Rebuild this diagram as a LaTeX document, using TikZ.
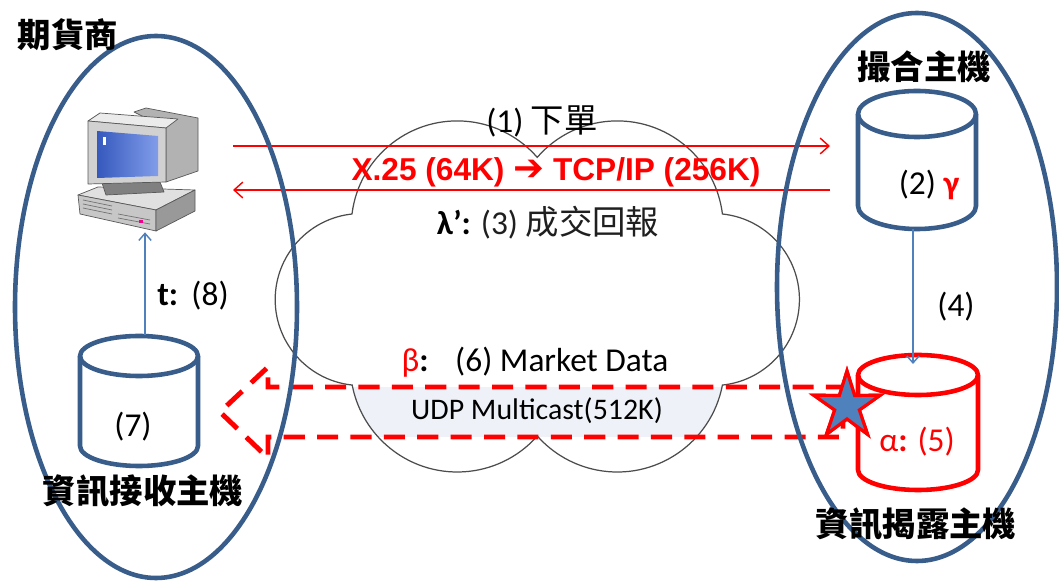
\documentclass[tikz,border=0pt]{standalone}
\usepackage{fontspec}
\setmainfont{Carlito}
\newfontfamily\cjk{Noto Sans CJK TC}
\newfontfamily\arialfont{Liberation Sans}
\newfontfamily\dingfont{DejaVu Sans}
\usetikzlibrary{arrows.meta}
\usetikzlibrary{shapes.geometric}

\definecolor{zoneblue}{RGB}{56,93,138}
\definecolor{linkblue}{RGB}{79,129,189}
\definecolor{bandfill}{RGB}{238,242,248}
\definecolor{screenblue}{RGB}{62,104,222}

\tikzset{
  zone/.style={draw=zoneblue,line width=2.6pt},
  dbline/.style={line width=2.6pt,line join=round},
  cloudline/.style={draw=black!70,line width=0.7pt},
  order/.style={red,line width=0.8pt,-{Straight Barb[length=5pt,width=9pt]}},
  feed/.style={linkblue,line width=0.8pt,-{Straight Barb[length=4pt,width=7pt]}},
  mktline/.style={red,line width=2.8pt,dash pattern=on 12pt off 7pt},
  hostlabel/.style={font=\cjk\bfseries\fontsize{19}{22}\selectfont,inner sep=0pt},
  msg/.style={font=\fontsize{19}{22}\selectfont,inner sep=0pt},
  pcface/.style={draw=black!65,line width=0.4pt,line join=round},
  hoststar/.style={star,star points=5,star point ratio=2.7,minimum size=14mm,inner sep=0pt,fill=linkblue,draw=red,line width=1.8pt}
}

% cloud between the two sites, one arc per puff
\newcommand\cloudoutline{(352,214) arc[start angle=-173,end angle=-41,radius=106]
  arc[start angle=-139,end angle=-7,radius=106]
  arc[start angle=-84,end angle=84,radius=86]
  arc[start angle=10.8,end angle=138.4,radius=107]
  arc[start angle=41.6,end angle=169.2,radius=107]
  arc[start angle=96,end angle=264,radius=86] -- cycle}

\begin{document}
\begin{tikzpicture}[x=0.2mm,y=-0.2mm]
\useasboundingbox (0,0) rectangle (1059,583);
\fill[white] (0,0) rectangle (1059,583);

% network cloud with the multicast band
\fill[white] \cloudoutline;
\begin{scope}
\clip \cloudoutline;
\fill[bandfill] (270,387) rectangle (800,437);
\end{scope}
\draw[cloudline] \cloudoutline;

% desktop computer
\node[minimum width=24mm,minimum height=24mm,inner sep=0pt] (pc) at (145,172) {};
\filldraw[pcface,fill=black!12] (78,195) -- (98,187) -- (195,190) -- (156,210) -- cycle;
\filldraw[pcface,fill=black!22] (78,195) -- (156,210) -- (156,231) -- (80,214) -- cycle;
\filldraw[pcface,fill=black!40] (156,210) -- (195,190) -- (195,211) -- (156,231) -- cycle;
\draw[black!55] (83,200) -- (112,206) (83,204) -- (112,210) (83,208) -- (112,214);
\draw[black!55] (118,214) -- (150,220) (118,218) -- (150,224);
\fill[magenta] (139,220) rectangle (143,223);
\filldraw[pcface,fill=black!50] (102,183) -- (160,182) -- (164,192) -- (106,195) -- cycle;
\filldraw[pcface,fill=black!30] (134,112) -- (146,108) -- (198,118) -- (198,171) -- (166,182) -- (166,128) -- cycle;
\filldraw[pcface,fill=black!8] (88,121) -- (100,113) -- (178,119) -- (166,128) -- cycle;
\filldraw[pcface,fill=black!18] (88,121) -- (166,128) -- (166,182) -- (88,184) -- cycle;
\shade[left color=screenblue!85!black,right color=screenblue!65!white] (97,131) -- (158,136) -- (158,176) -- (97,178) -- cycle;
\fill[white] (103,137) rectangle (106,145);

% orders out, fills back
\coordinate (ordout) at (233,146);
\coordinate (ordin) at (830,146);
\coordinate (ackout) at (830,190);
\coordinate (ackin) at (233,190);
\draw[order] (ordout) -- (ordin);
\draw[order] (ackout) -- (ackin);

% matching host
\filldraw[dbline,draw=zoneblue,fill=white] (858,114) -- (858,206) arc[start angle=180,end angle=0,x radius=59,y radius=23] -- (976,114);
\draw[dbline,draw=zoneblue] (917,114) ellipse[x radius=59,y radius=23];

% receiving host
\filldraw[dbline,draw=zoneblue,fill=white] (80,356) -- (80,446) arc[start angle=180,end angle=0,x radius=59,y radius=20] -- (198,356);
\draw[dbline,draw=zoneblue] (139,356) ellipse[x radius=59,y radius=20];

% publishing host
\filldraw[dbline,draw=red,fill=white] (858,375) -- (858,470) arc[start angle=180,end angle=0,x radius=60,y radius=20] -- (978,375);
\draw[dbline,draw=red] (918,375) ellipse[x radius=60,y radius=20];

% market data loop
\node[hoststar] (hit) at (847,406) {};
\draw[mktline] (hit.center |- 0,387) -- (268,387) -- (268,367) -- (220,412) -- (268,458) -- (268,437) -- (843,437) -- (843,422);
\node[hoststar] at (hit) {};

\coordinate (db7top) at (145,335);
\coordinate (db2bot) at (913,229);
\coordinate (db5top) at (913,364);
\draw[feed] (db7top) -- (pc.south);
\draw[feed] (db2bot) -- (db5top);

% the two sites
\draw[zone] (156,307) ellipse[x radius=141,y radius=271];
\draw[zone] (917,287) ellipse[x radius=140,y radius=274];

% labels
\node[hostlabel] (dealer) at (68,35) {期貨商};
\node[hostlabel] (matcher) at (924,67) {撮合主機};
\node[hostlabel] (receiver) at (143,491) {資訊接收主機};
\node[hostlabel] (publisher) at (916,524) {資訊揭露主機};
\node[msg] (m1) at (542,121) {(1) {\cjk 下單}};
\node[inner sep=0pt,text=red,font=\arialfont\bfseries\fontsize{18}{21}\selectfont] (link) at (556,172) {X.25 (64K) {\dingfont\bfseries\fontsize{21}{21}\selectfont ➔} TCP/IP (256K)};
\node[msg] (m3) at (548,223) {\textbf{λ':} {\color{black!88}(3) {\cjk 成交回報}}};
\node[msg] (m2) at (929,185) {(2) {\color{red}\bfseries γ}};
\node[msg] (m4) at (956,307) {(4)};
\node[msg,text=red] (m5) at (917,442) {α\textbf{:} (5)};
\node[msg] (m6) at (535,362) {{\color{red}β}\textbf{:}\hspace{0.8em}(6) Market Data};
\node[inner sep=0pt,font=\fontsize{17}{20}\selectfont] (udp) at (537,411) {UDP Multicast(512K)};
\node[msg] (m7) at (133,427) {(7)};
\node[msg] (m8) at (193,296) {\textbf{t:}\hspace{0.4em}(8)};
\end{tikzpicture}
\end{document}
